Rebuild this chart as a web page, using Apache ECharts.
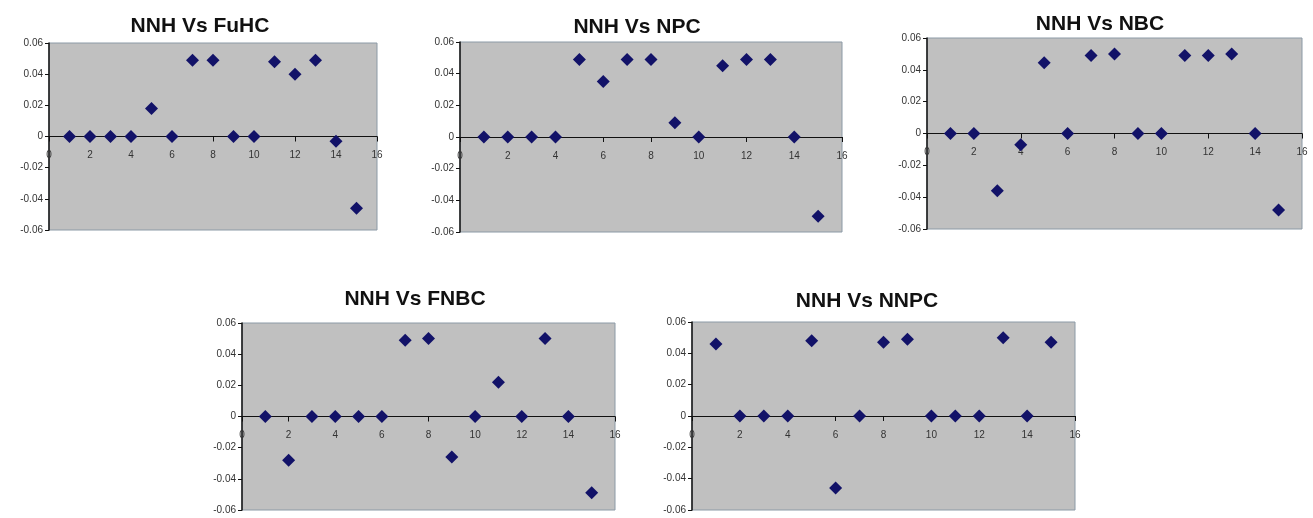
<!DOCTYPE html>
<html>
<head>
<meta charset="utf-8">
<script src="https://cdn.jsdelivr.net/npm/echarts@6/dist/echarts.min.js"></script>
<style>html,body{margin:0;padding:0;background:#fff;}#c{width:1313px;height:518px;}</style>
</head>
<body>
<div id="c"></div>
<script>
const xValues = [1,2,3,4,5,6,7,8,9,10,11,12,13,14,15];
const titles = ['NNH Vs FuHC','NNH Vs NPC','NNH Vs NBC','NNH Vs FNBC','NNH Vs NNPC'];
const fuhc = [0,0,0,0,0.018,0,0.049,0.049,0,0,0.048,0.040,0.049,-0.003,-0.046];
const npc  = [0,0,0,0,0.049,0.035,0.049,0.049,0.009,0,0.045,0.049,0.049,0,-0.050];
const nbc  = [0,0,-0.036,-0.007,0.0445,0,0.049,0.050,0,0,0.049,0.049,0.050,0,-0.048];
const fnbc = [0,-0.028,0,0,0,0,0.049,0.050,-0.026,0,0.022,0,0.050,0,-0.049];
const nnpc = [0.046,0,0,0,0.048,-0.046,0,0.047,0.049,0,0,0,0.050,0,0.047];
const seriesList = [fuhc,npc,nbc,fnbc,nnpc];

const grids = [
  {left:49, top:43, width:328, height:187},
  {left:460, top:42, width:382, height:190},
  {left:927, top:38, width:375, height:191},
  {left:242, top:323, width:373, height:187},
  {left:692, top:322, width:383, height:188}
];
const titlePos = [[200,16],[637,17],[1100,14],[415,289],[867,291]];

const font = '"Liberation Sans", Arial, sans-serif';
const option = {
  backgroundColor:'#ffffff',
  animation:false,
  title: titles.map((t,i)=>({
    text:t, left:titlePos[i][0], top:titlePos[i][1], textAlign:'center', padding:0,
    textStyle:{fontFamily:font, fontWeight:'bold', fontSize:21, color:'#111'}
  })),
  grid: grids.map(g=>Object.assign({show:true, backgroundColor:'#c0c0c0', borderColor:'#8c9aa6', borderWidth:1}, g)),
  xAxis: grids.map((g,i)=>({
    type:'value', gridIndex:i, min:0, max:16, interval:2, position:'bottom',
    offset: -g.height/2,
    axisLine:{show:true, onZero:false, lineStyle:{color:'#111', width:1.2}},
    axisTick:{show:true, length:5, lineStyle:{color:'#111'}},
    axisLabel:{fontFamily:font, fontSize:10, color:'#333', margin:14},
    splitLine:{show:false}
  })),
  yAxis: grids.map((g,i)=>({
    type:'value', gridIndex:i, min:-0.06, max:0.06, interval:0.02,
    axisLine:{show:true, onZero:false, lineStyle:{color:'#111', width:1.5}},
    axisTick:{show:true, length:4, lineStyle:{color:'#111'}},
    axisLabel:{fontFamily:font, fontSize:10, color:'#333', margin:6},
    splitLine:{show:false}
  })),
  series: seriesList.map((d,i)=>({
    type:'scatter', xAxisIndex:i, yAxisIndex:i, symbol:'diamond', symbolSize:13,
    itemStyle:{color:'#121268', opacity:1},
    data: xValues.map((x,j)=>[x,d[j]])
  }))
};
const chart = echarts.init(document.getElementById('c'), null, {renderer:'canvas'});
chart.setOption(option);
</script>
</body>
</html>
